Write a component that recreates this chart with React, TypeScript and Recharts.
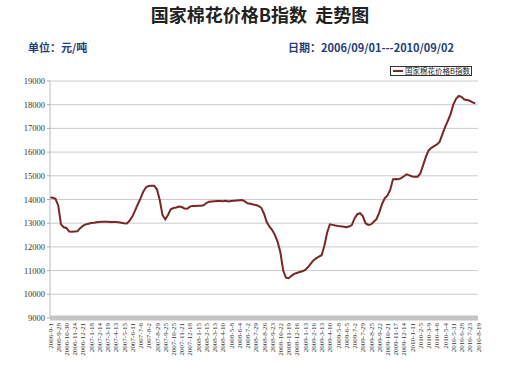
import React from 'react';
import { LineChart, Line, XAxis, YAxis, CartesianGrid } from 'recharts';

const tickLabels = [
  '2006-9-1', '2006-9-28', '2006-10-30', '2006-11-24', '2006-12-21',
  '2007-1-18', '2007-2-14', '2007-3-19', '2007-4-13', '2007-5-15',
  '2007-6-11', '2007-7-6', '2007-8-2', '2007-8-29', '2007-9-25',
  '2007-10-25', '2007-11-21', '2007-12-18', '2008-1-15', '2008-2-15',
  '2008-3-13', '2008-4-10', '2008-5-8', '2008-6-4', '2008-7-2',
  '2008-7-29', '2008-8-26', '2008-9-23', '2008-10-22', '2008-11-19',
  '2008-12-16', '2009-1-13', '2009-2-16', '2009-3-13', '2009-4-10',
  '2009-5-8', '2009-6-5', '2009-7-2', '2009-7-29', '2009-8-25',
  '2009-9-22', '2009-10-21', '2009-11-17', '2009-12-14', '2010-1-11',
  '2010-2-5', '2010-3-9', '2010-4-6', '2010-5-4', '2010-5-31',
  '2010-6-28', '2010-7-23', '2010-8-19',
];

// cotton index B, about 3 readings per tick label interval
const indexValues = [
  14080, 14070, 14030, 13750, 12950, 12830, 12800, 12650, 12640, 12650,
  12660, 12790, 12890, 12950, 12980, 13010, 13020, 13040, 13050, 13060,
  13060, 13060, 13050, 13050, 13050, 13040, 13020, 13000, 12990, 13100,
  13280, 13530, 13800, 14050, 14330, 14520, 14570, 14580, 14580, 14420,
  13980, 13350, 13160, 13350, 13590, 13640, 13660, 13700, 13680, 13620,
  13610, 13700, 13730, 13730, 13740, 13740, 13760, 13850, 13910, 13920,
  13930, 13940, 13940, 13930, 13950, 13920, 13940, 13950, 13960, 13970,
  13980, 13920, 13840, 13820, 13790, 13770, 13730, 13650, 13400, 13050,
  12850, 12710, 12500, 12200, 11750, 11000, 10700, 10680, 10780, 10860,
  10900, 10940, 10970, 11030, 11140, 11280, 11430, 11520, 11590, 11650,
  12050, 12600, 12950, 12930, 12900, 12880, 12870, 12850, 12830, 12860,
  12920, 13200, 13380, 13420, 13300, 13000, 12930, 12950, 13060, 13170,
  13450, 13800, 14050, 14170, 14400, 14850, 14860, 14850, 14900, 14980,
  15060, 15020, 14970, 14960, 14960, 15100, 15450, 15800, 16070, 16180,
  16250, 16320, 16430, 16750, 17050, 17320, 17600, 18000, 18250, 18370,
  18330, 18220, 18200, 18170, 18100, 18060,
];

const yTicks = [9000, 10000, 11000, 12000, 13000, 14000, 15000, 16000, 17000, 18000, 19000];

const PER_LABEL = 3;
const data = indexValues.map((v, i) => ({ i, v }));
const xTicks = tickLabels.map((_, k) => k * PER_LABEL);

const DateTick = (props: any) => {
  const { x, payload } = props;
  const label = tickLabels[Math.round(payload.value / PER_LABEL)];
  const ax = x + 2.5;
  const ay = 323;
  return (
    <text
      x={ax}
      y={ay}
      transform={`rotate(-90, ${ax}, ${ay})`}
      textAnchor="end"
      fontSize={7}
      fontFamily="'Liberation Serif', serif"
      fill="#333"
    >
      {label}
    </text>
  );
};

export default function App() {
  return (
    <div style={{ position: 'absolute', left: 0, top: 0, width: 520, height: 383, background: '#fff' }}>
      <div
        style={{
          position: 'absolute', left: 0, top: 3, width: 520, textAlign: 'center',
          fontFamily: "'Noto Sans CJK SC', sans-serif", fontWeight: 'bold', fontSize: 18,
          color: '#222', lineHeight: '22px',
        }}
      >
        国家棉花价格B指数&nbsp;&nbsp;走势图
      </div>
      <div
        style={{
          position: 'absolute', left: 28, top: 39, fontFamily: "'Noto Sans CJK SC', sans-serif",
          fontWeight: 'bold', fontSize: 11, color: '#1f3d7a', lineHeight: '16px',
        }}
      >
        单位：元/吨
      </div>
      <div
        style={{
          position: 'absolute', left: 288, top: 39, fontFamily: "'Noto Sans CJK SC', sans-serif",
          fontWeight: 'bold', fontSize: 11, color: '#1f3d7a', lineHeight: '16px', whiteSpace: 'nowrap',
        }}
      >
        日期：2006/09/01---2010/09/02
      </div>

      <LineChart width={520} height={383} data={data} margin={{ top: 81, right: 42, bottom: 0, left: 0 }}>
        <CartesianGrid horizontal vertical={false} stroke="#cccccc" />
        <XAxis
          dataKey="i"
          type="number"
          domain={[0, 156]}
          ticks={xTicks}
          interval={0}
          tick={<DateTick />}
          tickLine={false}
          height={65}
          axisLine={{ stroke: '#c4c4c4', strokeWidth: 5 }}
        />
        <YAxis
          width={50}
          domain={[9000, 19000]}
          ticks={yTicks}
          interval={0}
          tickSize={3}
          tickMargin={2}
          tick={{ fontSize: 8.5, fill: '#333', fontFamily: "'Liberation Serif', serif" }}
          tickLine={{ stroke: '#aaa' }}
          axisLine={{ stroke: '#bbb' }}
        />
        <Line
          type="linear"
          dataKey="v"
          stroke="#7a2626"
          strokeWidth={2}
          dot={false}
          isAnimationActive={false}
        />
      </LineChart>

      <div
        style={{
          position: 'absolute', left: 390, top: 66, width: 82, height: 10, border: '1px solid #333',
          display: 'flex', alignItems: 'center', background: '#fff', boxSizing: 'border-box',
        }}
      >
        <div style={{ width: 10, height: 2, background: '#7a2626', marginLeft: 2, marginRight: 2 }} />
        <span
          style={{
            fontFamily: "'Noto Sans CJK SC', sans-serif", fontSize: 7.5, color: '#222',
            lineHeight: '8px', whiteSpace: 'nowrap',
          }}
        >
          国家棉花价格B指数
        </span>
      </div>
    </div>
  );
}
